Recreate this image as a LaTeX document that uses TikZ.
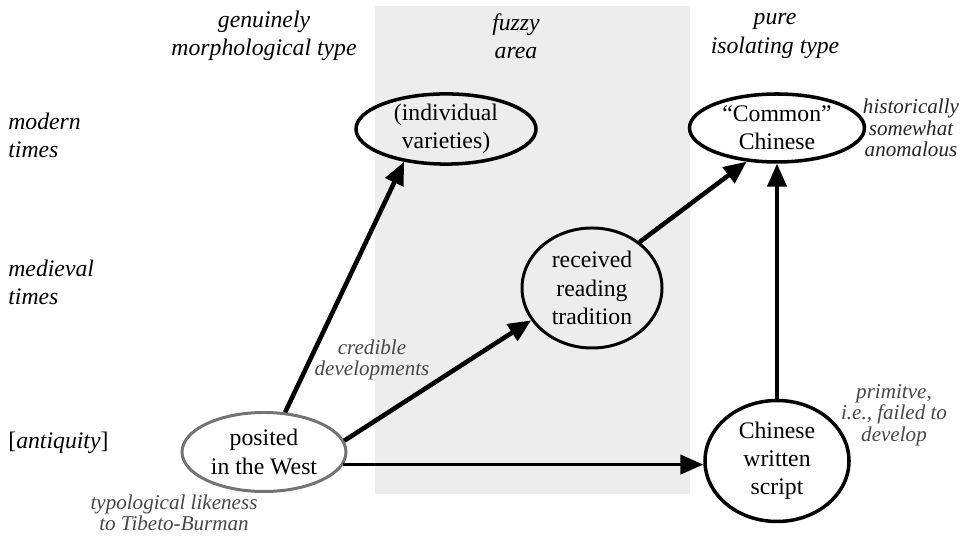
\documentclass[tikz,border=0pt]{standalone}
\usepackage{fontspec}
\setmainfont{Liberation Serif}
\usetikzlibrary{arrows.meta, shapes.geometric}

\begin{document}
\begin{tikzpicture}[font=\fontsize{13.5}{16}\selectfont,
  stage/.style={draw, ellipse, line width=2pt, inner sep=0pt, align=center},
  hdr/.style={font=\fontsize{13.5}{16}\selectfont\itshape, align=center},
  era/.style={font=\fontsize{13.5}{16}\selectfont\itshape, anchor=west, align=left, inner sep=0pt},
  ann/.style={font=\fontsize{12}{12.2}\selectfont\itshape, text=black!72, align=center},
  link/.style={line width=2.6pt, -{Triangle[length=13pt, width=11pt]}},
  thinlink/.style={line width=1.8pt, -{Triangle[length=13pt, width=11pt]}}]

  \useasboundingbox (0,0) rectangle (19.48,10.72);

  % --- fuzzy band ---
  \fill[black!7] (7.5,0.84) rectangle (13.8,10.6);

  % --- column headers ---
  \node[hdr] (morph) at (5.28,10.0) {genuinely\\morphological type};
  \node[hdr] (fuzzy) at (10.32,10.0) {fuzzy\\area};
  \node[hdr] (isol) at (15.5,10.0) {pure\\isolating type};

  % --- time rows ---
  \node[era] (modern) at (0.16,8.02) {modern\\times};
  \node[era] (medieval) at (0.16,5.08) {medieval\\times};
  \node[era, font=\fontsize{13.5}{16}\selectfont\upshape] (antiq) at (0.16,1.86) {[\textit{antiquity}]};

  % --- stages ---
  \node[stage, minimum width=3.6cm, minimum height=1.34cm] (indiv) at (8.92,8.14) {(individual\\varieties)};
  \node[stage, minimum width=3.5cm, minimum height=1.36cm] (common) at (15.54,8.16) {``Common''\\Chinese};
  \node[stage, minimum width=2.8cm, minimum height=2.4cm, line width=1.7pt] (recv) at (11.84,4.96) {received\\reading\\tradition};
  \node[stage, draw=black!55, minimum width=3.28cm, minimum height=1.58cm, line width=1.7pt] (posited) at (5.28,1.68) {posited\\in the West};
  \node[stage, minimum width=2.88cm, minimum height=2.42cm] (script) at (15.54,1.5) {Chinese\\written\\script};

  % --- notes ---
  \node[ann] (cred) at (7.44,3.52) {credible\\developments};
  \node[ann] (tibeto) at (3.48,0.46) {typological likeness\\to Tibeto-Burman};
  \node[ann, text=black!85] (anom) at (18.22,8.16) {historically\\somewhat\\anomalous};
  \node[ann] (prim) at (17.88,2.42) {primitve,\\i.e., failed to\\develop};

  % --- developments ---
  \draw[link] (posited.62) -- (indiv.218);
  \draw[link] (posited.8) -- (recv.208);
  \draw[link] (recv.44) -- (common.228);
  \draw[thinlink] (posited.-9) -- (posited.-9 -| script.west);
  \draw[thinlink] (script.north) -- (common.south);
\end{tikzpicture}
\end{document}
